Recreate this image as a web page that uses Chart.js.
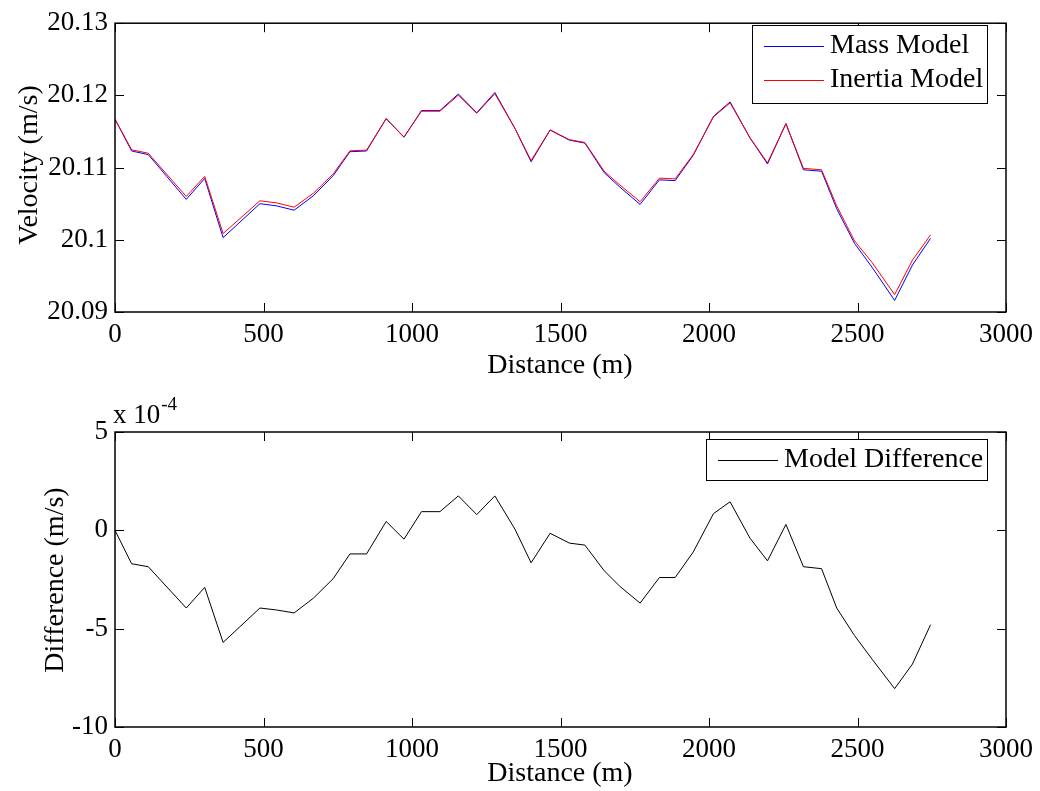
<!DOCTYPE html>
<html>
<head>
<meta charset="utf-8">
<script src="https://cdn.jsdelivr.net/npm/chart.js@4/dist/chart.umd.min.js"></script>
<style>
  html, body { margin:0; padding:0; background:#fff; }
  #wrap { position:relative; width:1040px; height:791px; }
  #topBox { position:absolute; left:0; top:0; width:1040px; height:395px; }
  #botBox { position:absolute; left:0; top:395px; width:1040px; height:396px; }
</style>
</head>
<body>
<div id="wrap">
  <div id="topBox"><canvas id="velChart" width="1040" height="395"></canvas></div>
  <div id="botBox"><canvas id="diffChart" width="1040" height="396"></canvas></div>
</div>
<script>
// distance along the track (m)
const distance = [0, 56, 112, 240, 302, 364, 488, 544, 603, 668, 735, 791, 847, 913, 973,
  1032, 1094, 1156, 1218, 1279, 1347, 1401, 1465, 1530, 1582, 1647, 1700, 1768, 1833, 1886,
  1947, 2015, 2071, 2138, 2197, 2259, 2318, 2379, 2430, 2490, 2549, 2625, 2685, 2746];

// velocity, mass model (m/s)
const massVel = [20.1167, 20.1123, 20.1118, 20.1056, 20.1085, 20.1003, 20.1050, 20.1047, 20.1041,
  20.1061, 20.1089, 20.1122, 20.1123, 20.1168, 20.1142, 20.1179, 20.1179, 20.1202, 20.1176,
  20.1204, 20.1154, 20.1108, 20.1152, 20.1138, 20.1134, 20.1093, 20.1073, 20.1049, 20.1083,
  20.1082, 20.1117, 20.1171, 20.1191, 20.1141, 20.1105, 20.1161, 20.1097, 20.1095, 20.1043,
  20.0995, 20.0962, 20.0916, 20.0965, 20.1002];

// velocity, inertia model (m/s)
const inertiaVel = [20.1167, 20.11247, 20.11199, 20.10600, 20.10879, 20.10087, 20.10540, 20.10511,
  20.10452, 20.10645, 20.10915, 20.11232, 20.11242, 20.11676, 20.11425, 20.11781, 20.11781,
  20.12003, 20.11752, 20.12023, 20.11540, 20.11097, 20.11522, 20.11387, 20.11348, 20.10950,
  20.10759, 20.10527, 20.10854, 20.10844, 20.11181, 20.11702, 20.11896, 20.11414, 20.11066,
  20.11607, 20.10989, 20.10970, 20.10470, 20.09985, 20.09686, 20.09241, 20.09718, 20.10068];

// model difference, in units of 1e-4 m/s
const diffE4 = [0, -1.7, -1.85, -3.95, -2.9, -5.7, -3.95, -4.05, -4.2, -3.45, -2.45, -1.2, -1.2,
  0.45, -0.45, 0.95, 0.95, 1.75, 0.8, 1.75, 0.05, -1.65, -0.15, -0.65, -0.75, -2.05, -2.85, -3.7,
  -2.4, -2.4, -1.1, 0.85, 1.45, -0.4, -1.55, 0.3, -1.85, -1.95, -3.95, -5.35, -6.55, -8.05, -6.8, -4.8];

const xTicks = [0, 500, 1000, 1500, 2000, 2500, 3000];
const velTicks = [20.09, 20.1, 20.11, 20.12, 20.13];
const diffTicks = [-10, -5, 0, 5];

const FONT = '"Liberation Serif", "Times New Roman", serif';
const FS = 28;     // titles, legend
const TFS = 27;    // tick labels

function pts(ys){ return distance.map((d,i)=>({x:d, y:ys[i]})); }

// frame, inward ticks, axis titles and boxed legend, matlab style
const matlabFrame = {
  id:'matlabFrame',
  afterDraw(chart, args, o){
    const {ctx, chartArea:a, scales:{x, y}} = chart;
    ctx.save();
    ctx.strokeStyle = '#000';
    ctx.lineWidth = 1;
    ctx.beginPath();
    x.ticks.forEach(t=>{
      const px = Math.round(x.getPixelForValue(t.value))+0.5;
      ctx.moveTo(px, a.bottom); ctx.lineTo(px, a.bottom-9);
      ctx.moveTo(px, a.top); ctx.lineTo(px, a.top+9);
    });
    y.ticks.forEach(t=>{
      const py = Math.round(y.getPixelForValue(t.value))+0.5;
      ctx.moveTo(a.left, py); ctx.lineTo(a.left+9, py);
      ctx.moveTo(a.right, py); ctx.lineTo(a.right-9, py);
    });
    ctx.stroke();
    ctx.lineWidth = 1.5;
    ctx.strokeRect(a.left, a.top, a.right-a.left, a.bottom-a.top);

    ctx.fillStyle = '#000';
    ctx.font = `${FS}px ${FONT}`;
    ctx.textAlign = 'center';
    ctx.textBaseline = 'middle';
    ctx.fillText(o.xTitle, o.xTitlePos[0], o.xTitlePos[1]);
    ctx.save();
    ctx.translate(o.yTitlePos[0], o.yTitlePos[1]);
    ctx.rotate(-Math.PI/2);
    ctx.fillText(o.yTitle, 0, 0);
    ctx.restore();

    if (o.exponent){
      ctx.font = `${TFS}px ${FONT}`;
      ctx.textAlign = 'left';
      ctx.fillText('x 10', o.exponent[0], o.exponent[1]);
      const w = ctx.measureText('x 10').width;
      ctx.font = `${Math.round(TFS*0.72)}px ${FONT}`;
      ctx.fillText('-4', o.exponent[0]+w+1, o.exponent[1]-11);
      ctx.font = `${FS}px ${FONT}`;
    }

    // legend box
    const L = o.legend;
    ctx.fillStyle = '#fff';
    ctx.fillRect(L.x, L.y, L.w, L.h);
    ctx.lineWidth = 1;
    ctx.strokeStyle = '#000';
    ctx.strokeRect(L.x+0.5, L.y+0.5, L.w, L.h);
    ctx.textAlign = 'left';
    chart.data.datasets.forEach((ds,i)=>{
      const ly = L.y + L.first + i*L.step;
      ctx.strokeStyle = ds.borderColor;
      ctx.beginPath();
      ctx.moveTo(L.x+12, ly+0.5); ctx.lineTo(L.x+72, ly+0.5);
      ctx.stroke();
      ctx.fillStyle = '#000';
      ctx.fillText(ds.label, L.x+78, ly);
    });
    ctx.restore();
  }
};

function baseOptions(yMin, yMax, yStep, yFmt, xAxisH, padTop, plug){
  return {
    responsive:false,
    animation:false,
    events:[],
    layout:{ padding:{ left:0, right:34, top:padTop, bottom:0 } },
    plugins:{ legend:{display:false}, tooltip:{enabled:false}, matlabFrame:plug },
    elements:{ point:{ radius:0 }, line:{ tension:0, borderWidth:1 } },
    scales:{
      x:{
        type:'linear', min:0, max:3000,
        afterBuildTicks: s=>{ s.ticks = xTicks.map(v=>({value:v})); },
        ticks:{ font:{family:FONT, size:TFS}, color:'#000', padding:7, maxRotation:0, callback:v=>String(v) },
        grid:{ display:false, drawTicks:false, tickLength:0 }, border:{ display:false },
        afterFit: s=>{ s.height = xAxisH; }
      },
      y:{
        type:'linear', min:yMin, max:yMax,
        afterBuildTicks: s=>{ s.ticks = yStep.map(v=>({value:v})); },
        ticks:{ font:{family:FONT, size:TFS}, color:'#000', padding:7, callback:yFmt },
        grid:{ display:false, drawTicks:false, tickLength:0 }, border:{ display:false },
        afterFit: s=>{ s.width = 115; }
      }
    }
  };
}

new Chart(document.getElementById('velChart'), {
  type:'line',
  data:{ datasets:[
    { label:'Mass Model', data:pts(massVel), borderColor:'#0000ff', order:1 },
    { label:'Inertia Model', data:pts(inertiaVel), borderColor:'#ff0000', order:0 }
  ]},
  options: baseOptions(20.09, 20.13, velTicks, v=>String(Number(v.toFixed(2))), 83, 18, {
    xTitle:'Distance (m)', xTitlePos:[560, 366],
    yTitle:'Velocity (m/s)', yTitlePos:[30, 165],
    legend:{ x:752, y:25, w:235, h:78, first:21, step:34 }
  }),
  plugins:[matlabFrame]
});

new Chart(document.getElementById('diffChart'), {
  type:'line',
  data:{ datasets:[
    { label:'Model Difference', data:pts(diffE4), borderColor:'#000000' }
  ]},
  options: baseOptions(-10, 5, diffTicks, v=>String(v), 64, 37, {
    xTitle:'Distance (m)', xTitlePos:[560, 379],
    yTitle:'Difference (m/s)', yTitlePos:[56, 185],
    exponent:[113, 21],
    legend:{ x:706, y:44, w:281, h:41, first:21, step:34 }
  }),
  plugins:[matlabFrame]
});
</script>
</body>
</html>
